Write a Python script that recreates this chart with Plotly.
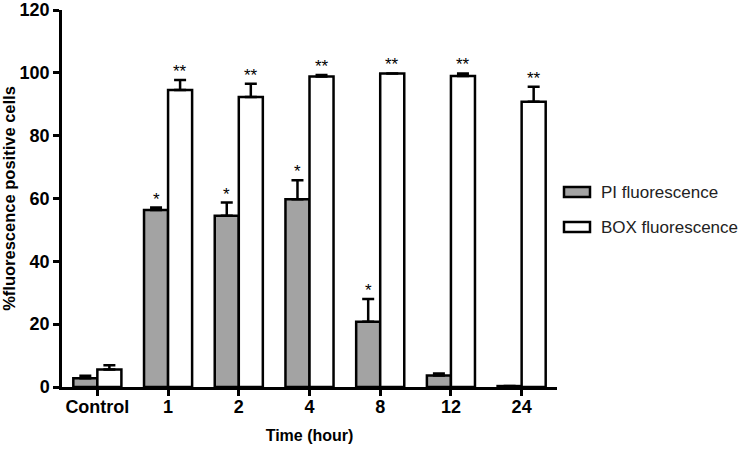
import plotly.graph_objects as go

categories = ["Control", "1", "2", "4", "8", "12", "24"]
pi_values = [2.8, 56.3, 54.5, 59.8, 20.8, 3.7, 0.3]
pi_errors = [0.8, 0.8, 4.2, 6.0, 7.2, 0.6, 0.0]
box_values = [5.6, 94.5, 92.3, 98.8, 99.8, 99.0, 90.8]
box_errors = [1.3, 3.2, 4.2, 0.5, 0.0, 0.8, 4.8]
pi_marks = ["", "*", "*", "*", "*", "", ""]
box_marks = ["", "**", "**", "**", "**", "**", "**"]
series_names = ["PI fluorescence", "BOX fluorescence"]
y_ticks = [0, 20, 40, 60, 80, 100, 120]

W, H = 749, 453
L, R, T, B = 62, 192, 10, 66
pw = W - L - R
ph = H - T - B

FONT = "Liberation Sans, Arial, sans-serif"
GRAY = "#a3a3a3"

fig = go.Figure()
fig.add_trace(go.Bar(
    x=categories, y=pi_values, name=series_names[0],
    marker=dict(color=GRAY, line=dict(color="black", width=2.5)),
    error_y=dict(type="data", symmetric=False, array=pi_errors,
                 arrayminus=[0] * len(pi_errors), color="black",
                 thickness=2.5, width=6),
    showlegend=False,
))
fig.add_trace(go.Bar(
    x=categories, y=box_values, name=series_names[1],
    marker=dict(color="white", line=dict(color="black", width=2.5)),
    error_y=dict(type="data", symmetric=False, array=box_errors,
                 arrayminus=[0] * len(box_errors), color="black",
                 thickness=2.5, width=6),
    showlegend=False,
))

annotations = []
for i, c in enumerate(categories):
    for vals, errs, marks, shift in ((pi_values, pi_errors, pi_marks, -12),
                                     (box_values, box_errors, box_marks, 12)):
        if marks[i]:
            annotations.append(dict(
                x=i, y=vals[i] + errs[i], xref="x", yref="y",
                text=marks[i], showarrow=False, xshift=shift, yshift=-3,
                yanchor="bottom", xanchor="center",
                font=dict(family=FONT, size=17, color="black"),
            ))

# manual legend
def px_x(p):
    return (p - L) / pw

def px_y(p):
    return 1 - (p - T) / ph

shapes = []
for k, (name, col, yc) in enumerate(((series_names[0], GRAY, 192),
                                     (series_names[1], "white", 227))):
    shapes.append(dict(type="rect", xref="paper", yref="paper",
                       x0=px_x(564), x1=px_x(590), y0=px_y(yc - 5), y1=px_y(yc + 5),
                       fillcolor=col, line=dict(color="black", width=2.5)))
    annotations.append(dict(x=px_x(599), y=px_y(yc), xref="paper", yref="paper",
                            text=name, showarrow=False, xanchor="left",
                            yanchor="middle",
                            font=dict(family=FONT, size=17, color="#222")))

fig.update_layout(
    width=W, height=H,
    margin=dict(l=L, r=R, t=T, b=B),
    paper_bgcolor="white", plot_bgcolor="white",
    barmode="group", bargap=0.32, bargroupgap=0,
    annotations=annotations, shapes=shapes,
    font=dict(family=FONT, color="black"),
)
fig.update_xaxes(
    type="category", range=[-0.5, len(categories) - 0.5], automargin=False,
    tickangle=0, ticklabelstandoff=-4,
    showline=True, linecolor="black", linewidth=2.5,
    ticks="outside", ticklen=6, tickwidth=2.5, tickcolor="black",
    tickfont=dict(family=FONT, size=18, weight="bold", color="black"),
    title=dict(text="Time (hour)", font=dict(family=FONT, size=16, weight="bold"),
               standoff=14),
    showgrid=False, zeroline=False,
)
fig.update_yaxes(
    range=[0, 120], tickvals=y_ticks, automargin=False,
    ticklabeloverflow="allow",
    showline=True, linecolor="black", linewidth=2.5,
    ticks="outside", ticklen=6, tickwidth=2.5, tickcolor="black",
    tickfont=dict(family=FONT, size=18, weight="bold", color="black"),
    title=dict(text="%fluorescence positive cells",
               font=dict(family=FONT, size=16.5, weight="bold"), standoff=10),
    showgrid=False, zeroline=False,
)

fig.write_html("out.html", config={"displayModeBar": False},
               post_script="document.body.style.margin='0';")
